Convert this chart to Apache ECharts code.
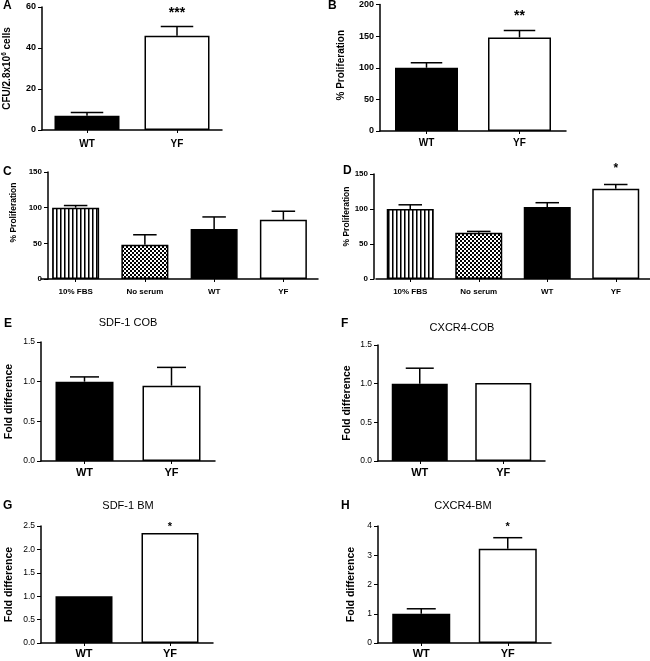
<!DOCTYPE html>
<html><head><meta charset="utf-8">
<script src="https://cdn.jsdelivr.net/npm/echarts@6/dist/echarts.min.js"></script>
<style>html,body{margin:0;padding:0;background:#fff}#c{width:650px;height:661px}</style>
</head><body><div id="c"></div>
<script>
// ---- data ----
const catsAB = ['WT', 'YF'];
const catsCD = ['10% FBS', 'No serum', 'WT', 'YF'];
const valA = [7, 46];        const errA = [8.5, 50.5];  const sigA = ['', '***'];
const valB = [100, 148];     const errB = [108, 159];   const sigB = ['', '**'];
const valC = [100, 48, 70, 83]; const errC = [103, 62, 87, 95]; const sigC = ['', '', '', ''];
const valD = [100, 66, 103, 129]; const errD = [106, 68, 109, 135]; const sigD = ['', '', '', '*'];
const valE = [1.0, 0.95];    const errE = [1.06, 1.18]; const sigE = ['', ''];
const valF = [1.0, 1.01];    const errF = [1.20, null]; const sigF = ['', ''];
const valG = [1.0, 2.35];    const errG = [null, null]; const sigG = ['', '*'];
const valH = [1.0, 3.22];    const errH = [1.17, 3.6];  const sigH = ['', '*'];
const ticksA = [0, 20, 40, 60];
const ticksB = [0, 50, 100, 150, 200];
const ticksC = [0, 50, 100, 150];
const ticksD = [0, 50, 100, 150];
const ticksE = [0, 0.5, 1.0, 1.5];
const ticksF = [0, 0.5, 1.0, 1.5];
const ticksG = [0, 0.5, 1.0, 1.5, 2.0, 2.5];
const ticksH = [0, 1, 2, 3, 4];
const titles = {E: 'SDF-1 COB', F: 'CXCR4-COB', G: 'SDF-1 BM', H: 'CXCR4-BM'};

// ---- patterns ----
function stripePattern() {
  const c = document.createElement('canvas'); c.width = 4; c.height = 4;
  const g = c.getContext('2d');
  g.fillStyle = '#fff'; g.fillRect(0, 0, 4, 4);
  g.fillStyle = '#000'; g.fillRect(0, 0, 1, 4);
  g.fillStyle = '#777'; g.fillRect(1, 0, 1, 4);
  return {image: c, repeat: 'repeat'};
}
function checkerPattern() {
  const c = document.createElement('canvas'); c.width = 4; c.height = 4;
  const g = c.getContext('2d');
  g.fillStyle = '#fff'; g.fillRect(0, 0, 4, 4);
  g.fillStyle = '#000'; g.fillRect(0, 0, 2, 2); g.fillRect(2, 2, 2, 2);
  return {image: c, repeat: 'repeat'};
}
const STRIPE = stripePattern(), CHECK = checkerPattern();
const FONT = 'Liberation Sans, Arial, sans-serif';

const grids = [], xAxes = [], yAxes = [], series = [], graphics = [];

function panel(p) {
  const idx = grids.length;
  grids.push({left: p.left, top: p.top, width: p.width, height: p.height, containLabel: false});
  xAxes.push({
    type: 'category', gridIndex: idx, data: p.cats,
    axisLine: {lineStyle: {color: '#000', width: 1.5}},
    axisTick: {show: true, alignWithLabel: true, length: 3, lineStyle: {color: '#000', width: 1}},
    axisLabel: {color: '#000', fontFamily: FONT, fontWeight: 'bold', fontSize: p.catFont, margin: p.catMargin}
  });
  const t = p.ticks;
  yAxes.push({
    type: 'value', gridIndex: idx, min: t[0], max: t[t.length - 1], interval: t[1] - t[0],
    offset: p.yOffset || 0,
    splitLine: {show: false},
    axisLine: {show: true, lineStyle: {color: '#000', width: 1.5}},
    axisTick: {show: true, length: 4, lineStyle: {color: '#000', width: 1}},
    axisLabel: {color: '#000', fontFamily: FONT, fontWeight: p.tickBold ? 'bold' : 'normal', fontSize: p.tickFont, margin: 6,
      formatter: v => p.dec ? v.toFixed(1) : String(v)},
    name: p.name, nameLocation: 'middle', nameGap: p.nameGap,
    nameTextStyle: Object.assign({color: '#000', fontFamily: FONT, fontWeight: 'bold', fontSize: p.nameFont,
      padding: p.namePad || 0}, p.nameRich ? {rich: p.nameRich} : {})
  });
  series.push({
    type: 'bar', xAxisIndex: idx, yAxisIndex: idx, barWidth: p.barWidth,
    data: p.vals.map((v, i) => ({value: v, itemStyle: {color: p.colors[i], borderColor: '#000', borderWidth: 1.5}})),
    silent: true, animation: false
  });
  const capW = p.barWidth / 2;
  series.push({
    type: 'custom', xAxisIndex: idx, yAxisIndex: idx, z: 5, animation: false, silent: true,
    data: p.vals.map((v, i) => [i, v, p.errs[i] == null ? v : p.errs[i]]),
    renderItem: function (params, api) {
      const i = api.value(0), v = api.value(1), e = api.value(2);
      const p0 = api.coord([i, v]), p1 = api.coord([i, e]);
      const ch = [];
      if (e > v) {
        ch.push({type: 'line', shape: {x1: p0[0], y1: p0[1], x2: p1[0], y2: p1[1]}, style: {stroke: '#000', lineWidth: 1.5}});
        ch.push({type: 'line', shape: {x1: p1[0] - capW / 2, y1: p1[1], x2: p1[0] + capW / 2, y2: p1[1]}, style: {stroke: '#000', lineWidth: 1.5}});
      }
      const s = p.sig[params.dataIndex];
      if (s) {
        ch.push({type: 'text', style: {text: s, x: p1[0], y: p1[1] - p.sigGap, align: 'center', verticalAlign: 'middle',
          fontSize: p.sigFont, fontWeight: 'bold', fontFamily: FONT, fill: '#000'}});
      }
      return {type: 'group', children: ch};
    }
  });
}

// A
panel({left: 41, top: 7, width: 181, height: 123, cats: catsAB, vals: valA, errs: errA, sig: sigA, ticks: ticksA,
  colors: ['#000', '#fff'], barWidth: 65, catFont: 10, catMargin: 9, tickFont: 9, tickBold: true,
  name: '{a|CFU/2.8x10}{s|6}{a| cells}', nameGap: 29, nameFont: 10,
  nameRich: {a: {fontFamily: FONT, fontWeight: 'bold', fontSize: 10, color: '#000'}, s: {fontFamily: FONT, fontWeight: 'bold', fontSize: 6.5, color: '#000', verticalAlign: 'top', padding: [0, 0, 5, 0]}},
  sigGap: 13, sigFont: 14});
// B
panel({left: 380, top: 4, width: 186, height: 127, cats: catsAB, vals: valB, errs: errB, sig: sigB, ticks: ticksB,
  colors: ['#000', '#fff'], barWidth: 63, catFont: 10, catMargin: 7, tickFont: 9, tickBold: true,
  name: '% Proliferation', nameGap: 34, nameFont: 10, namePad: [0, 0, 0, 5], sigGap: 14, sigFont: 14});
// C
panel({left: 41, top: 172, width: 277, height: 107, yOffset: -7, cats: catsCD, vals: valC, errs: errC, sig: sigC, ticks: ticksC,
  colors: [STRIPE, CHECK, '#000', '#fff'], barWidth: 47, catFont: 8, catMargin: 9, tickFont: 8, tickBold: true,
  name: '% Proliferation', nameGap: 30, nameFont: 8.5, namePad: [0, 0, 0, 26], sigGap: 14, sigFont: 12});
// D
panel({left: 376, top: 174, width: 274, height: 105, yOffset: 2, cats: catsCD, vals: valD, errs: errD, sig: sigD, ticks: ticksD,
  colors: [STRIPE, CHECK, '#000', '#fff'], barWidth: 47, catFont: 8, catMargin: 9, tickFont: 8, tickBold: true,
  name: '% Proliferation', nameGap: 20, nameFont: 8.5, namePad: [0, 0, 0, 20], sigGap: 16, sigFont: 12});
// E
panel({left: 41, top: 342, width: 174, height: 119, cats: catsAB, vals: valE, errs: errE, sig: sigE, ticks: ticksE, dec: true,
  colors: ['#000', '#fff'], barWidth: 58, catFont: 11, catMargin: 6, tickFont: 8.5, tickBold: false,
  name: 'Fold difference', nameGap: 26, nameFont: 10.5, sigGap: 10, sigFont: 10});
// F
panel({left: 378, top: 345, width: 167, height: 116, cats: catsAB, vals: valF, errs: errF, sig: sigF, ticks: ticksF, dec: true,
  colors: ['#000', '#fff'], barWidth: 56, catFont: 11, catMargin: 6, tickFont: 8.5, tickBold: false,
  name: 'Fold difference', nameGap: 25, nameFont: 10.5, sigGap: 10, sigFont: 10});
// G
panel({left: 41, top: 526, width: 172, height: 117, cats: catsAB, vals: valG, errs: errG, sig: sigG, ticks: ticksG, dec: true,
  colors: ['#000', '#fff'], barWidth: 57, catFont: 11, catMargin: 5, tickFont: 8.5, tickBold: false,
  name: 'Fold difference', nameGap: 26, nameFont: 10.5, sigGap: 6, sigFont: 11});
// H
panel({left: 378, top: 526, width: 173, height: 117, cats: catsAB, vals: valH, errs: errH, sig: sigH, ticks: ticksH,
  colors: ['#000', '#fff'], barWidth: 58, catFont: 11, catMargin: 5, tickFont: 8.5, tickBold: false,
  name: 'Fold difference', nameGap: 21, nameFont: 10.5, sigGap: 11, sigFont: 11});

function txt(s, x, y, size, bold, align) {
  graphics.push({type: 'text', x: x, y: y, silent: true,
    style: {text: s, fontSize: size, fontWeight: bold ? 'bold' : 'normal', fontFamily: FONT, fill: '#000',
      align: align || 'left', verticalAlign: 'middle'}});
}
txt('A', 3, 6, 12, true); txt('B', 328, 6, 12, true);
txt('C', 3, 172, 12, true); txt('D', 343, 171, 12, true);
txt('E', 4, 324, 12, true); txt('F', 341, 324, 12, true);
txt('G', 3, 506, 12, true); txt('H', 341, 506, 12, true);
txt(titles.E, 128, 323, 11, false, 'center'); txt(titles.F, 462, 328, 11, false, 'center');
txt(titles.G, 128, 506, 11, false, 'center'); txt(titles.H, 463, 506, 11, false, 'center');

const chart = echarts.init(document.getElementById('c'), null, {renderer: 'canvas'});
chart.setOption({animation: false, backgroundColor: '#fff', grid: grids, xAxis: xAxes, yAxis: yAxes, series: series, graphic: graphics});
</script>
</body></html>
